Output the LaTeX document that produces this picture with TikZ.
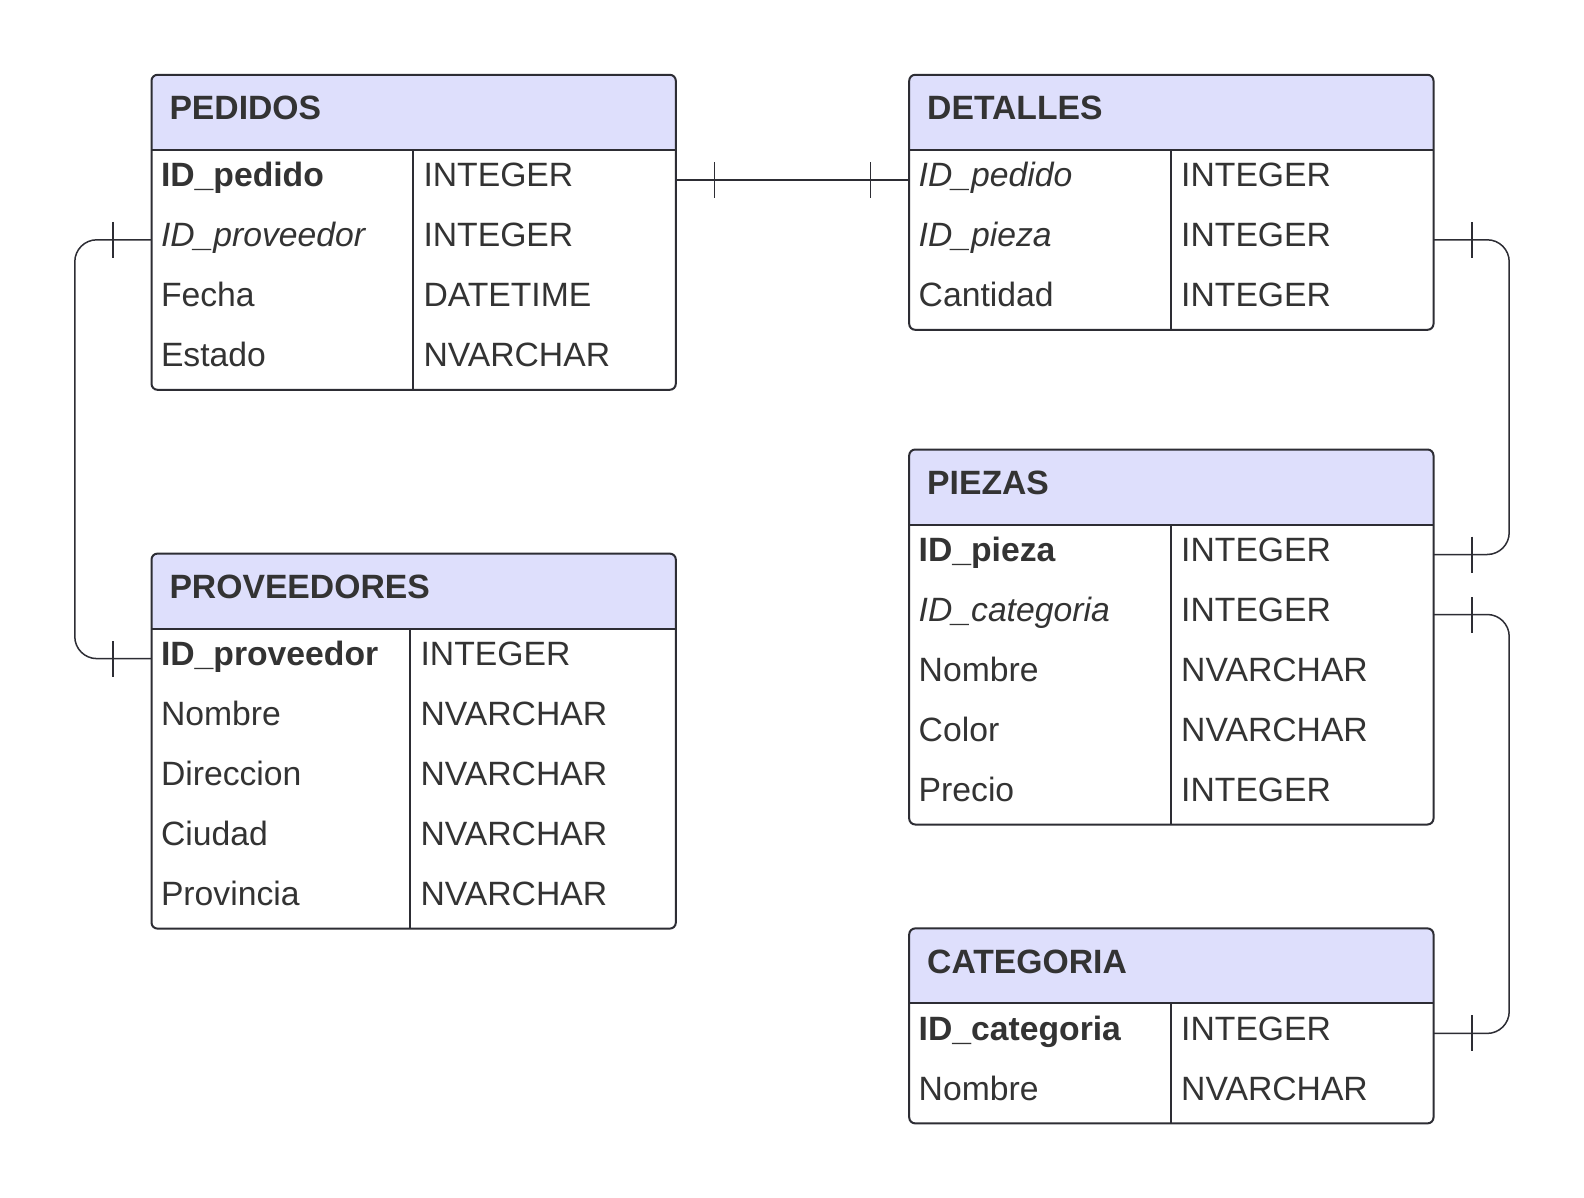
\documentclass[tikz,border=0pt]{standalone}
\usepackage{fontspec}
\setmainfont{Liberation Sans}
\usetikzlibrary{positioning,backgrounds,decorations.markings}
\definecolor{ink}{RGB}{51,51,51}
\definecolor{edge}{RGB}{45,45,52}
\definecolor{lav}{RGB}{222,223,252}
\tikzstyle{hdr} = [anchor=north west, outer sep=0pt, inner xsep=18pt, inner ysep=0pt, minimum height=75pt, text width=488.3pt, align=left, text height=24pt, text depth=9pt, text=ink, font=\fontsize{33.7}{40}\selectfont\bfseries]
\tikzstyle{cell} = [outer sep=0pt, inner ysep=0pt, minimum height=60pt, align=left, text height=24pt, text depth=10.4pt, text=ink, font=\fontsize{33.7}{40}\selectfont]
\tikzstyle{fld} = [cell, inner xsep=9.5pt, text width=242.5pt]
\tikzstyle{typ} = [cell, inner xsep=10.5pt, text width=241.8pt]
\tikzstyle{tblline} = [draw=edge, line width=2pt]
\tikzstyle{rel} = [draw=edge, line width=1.5pt, rounded corners=22pt, postaction={decorate, decoration={markings,
    mark=at position 38.5pt with {\draw[edge, line width=1.5pt] (0,-18pt) -- (0,18pt);},
    mark=at position -38.5pt with {\draw[edge, line width=1.5pt] (0,-18pt) -- (0,18pt);}}}]

\begin{document}
\begin{tikzpicture}[x=1pt, y=-1pt]

\begin{scope}[on background layer]
\fill[white] (0,0) rectangle (1584,1198);
\end{scope}
\useasboundingbox (0,0) rectangle (1584,1198);

% PEDIDOS =============================
\node[hdr] (ped) at (151.5,74.8) {PEDIDOS};
\node[fld, below right=0pt and 0pt of ped.south west] (ped-1) {\textbf{ID\_pedido}};
\node[fld, below=0pt of ped-1] (ped-2) {\textit{ID\_proveedor}};
\node[fld, below=0pt of ped-2] (ped-3) {Fecha};
\node[fld, below=0pt of ped-3] (ped-4) {Estado};
\node[typ, right=0pt of ped-1] (ped-1t) {INTEGER};
\node[typ, right=0pt of ped-2] (ped-2t) {INTEGER};
\node[typ, right=0pt of ped-3] (ped-3t) {DATETIME};
\node[typ, right=0pt of ped-4] (ped-4t) {NVARCHAR};

% DETALLES
\node[hdr] (det) at (909.2,74.8) {DETALLES};
\node[fld, below right=0pt and 0pt of det.south west] (det-1) {\textit{ID\_pedido}};
\node[fld, below=0pt of det-1] (det-2) {\textit{ID\_pieza}};
\node[fld, below=0pt of det-2] (det-3) {Cantidad};
\node[typ, right=0pt of det-1] (det-1t) {INTEGER};
\node[typ, right=0pt of det-2] (det-2t) {INTEGER};
\node[typ, right=0pt of det-3] (det-3t) {INTEGER};

% PIEZAS
\node[hdr] (pie) at (909.2,449.5) {PIEZAS};
\node[fld, below right=0pt and 0pt of pie.south west] (pie-1) {\textbf{ID\_pieza}};
\node[fld, below=0pt of pie-1] (pie-2) {\textit{ID\_categoria}};
\node[fld, below=0pt of pie-2] (pie-3) {Nombre};
\node[fld, below=0pt of pie-3] (pie-4) {Color};
\node[fld, below=0pt of pie-4] (pie-5) {Precio};
\node[typ, right=0pt of pie-1] (pie-1t) {INTEGER};
\node[typ, right=0pt of pie-2] (pie-2t) {INTEGER};
\node[typ, right=0pt of pie-3] (pie-3t) {NVARCHAR};
\node[typ, right=0pt of pie-4] (pie-4t) {NVARCHAR};
\node[typ, right=0pt of pie-5] (pie-5t) {INTEGER};

% PROVEEDORES
\node[hdr] (prv) at (151.5,553.6) {PROVEEDORES};
\node[fld, text width=239.6pt, below right=0pt and 0pt of prv.south west] (prv-1) {\textbf{ID\_proveedor}};
\node[fld, text width=239.6pt, below=0pt of prv-1] (prv-2) {Nombre};
\node[fld, text width=239.6pt, below=0pt of prv-2] (prv-3) {Direccion};
\node[fld, text width=239.6pt, below=0pt of prv-3] (prv-4) {Ciudad};
\node[fld, text width=239.6pt, below=0pt of prv-4] (prv-5) {Provincia};
\node[typ, text width=244.7pt, right=0pt of prv-1] (prv-1t) {INTEGER};
\node[typ, text width=244.7pt, right=0pt of prv-2] (prv-2t) {NVARCHAR};
\node[typ, text width=244.7pt, right=0pt of prv-3] (prv-3t) {NVARCHAR};
\node[typ, text width=244.7pt, right=0pt of prv-4] (prv-4t) {NVARCHAR};
\node[typ, text width=244.7pt, right=0pt of prv-5] (prv-5t) {NVARCHAR};

% CATEGORIA
\node[hdr] (cat) at (909.2,928.4) {CATEGORIA};
\node[fld, below right=0pt and 0pt of cat.south west] (cat-1) {\textbf{ID\_categoria}};
\node[fld, below=0pt of cat-1] (cat-2) {Nombre};
\node[typ, right=0pt of cat-1] (cat-1t) {INTEGER};
\node[typ, right=0pt of cat-2] (cat-2t) {NVARCHAR};

% frames =============================
\begin{scope}[on background layer]
\fill[lav] (ped.south west) [rounded corners=6pt] -- (ped.north west) -- (ped.north east) [sharp corners] -- (ped.south east) -- cycle;
\fill[lav] (det.south west) [rounded corners=6pt] -- (det.north west) -- (det.north east) [sharp corners] -- (det.south east) -- cycle;
\fill[lav] (pie.south west) [rounded corners=6pt] -- (pie.north west) -- (pie.north east) [sharp corners] -- (pie.south east) -- cycle;
\fill[lav] (prv.south west) [rounded corners=6pt] -- (prv.north west) -- (prv.north east) [sharp corners] -- (prv.south east) -- cycle;
\fill[lav] (cat.south west) [rounded corners=6pt] -- (cat.north west) -- (cat.north east) [sharp corners] -- (cat.south east) -- cycle;
\end{scope}

\draw[tblline, rounded corners=6pt] (ped.north west) rectangle (ped-4t.south east);
\draw[tblline] (ped.south west) -- (ped.south east);
\draw[tblline] (ped-1.north east) -- (ped-4.south east);

\draw[tblline, rounded corners=6pt] (det.north west) rectangle (det-3t.south east);
\draw[tblline] (det.south west) -- (det.south east);
\draw[tblline] (det-1.north east) -- (det-3.south east);

\draw[tblline, rounded corners=6pt] (pie.north west) rectangle (pie-5t.south east);
\draw[tblline] (pie.south west) -- (pie.south east);
\draw[tblline] (pie-1.north east) -- (pie-5.south east);

\draw[tblline, rounded corners=6pt] (prv.north west) rectangle (prv-5t.south east);
\draw[tblline] (prv.south west) -- (prv.south east);
\draw[tblline] (prv-1.north east) -- (prv-5.south east);

\draw[tblline, rounded corners=6pt] (cat.north west) rectangle (cat-2t.south east);
\draw[tblline] (cat.south west) -- (cat.south east);
\draw[tblline] (cat-1.north east) -- (cat-2.south east);

% relations
\draw[rel] (ped-1t.east) -- (det-1.west);
\draw[rel] (ped-2.west) -- ++(-76.7,0) |- (prv-1.west);
\draw[rel] (det-2t.east) -- ++(75.7,0) |- (pie-1t.east);
\draw[rel] (pie-2t.east) -- ++(75.7,0) |- (cat-1t.east);

\end{tikzpicture}
\end{document}
